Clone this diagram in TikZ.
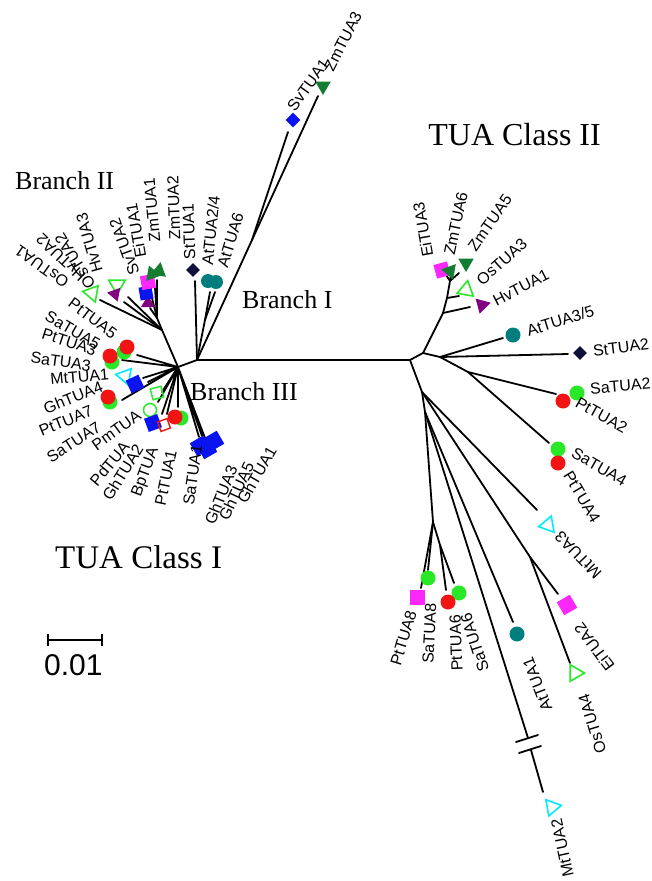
\documentclass[tikz,border=0pt]{standalone}
\usepackage{fontspec}
\setmainfont{Liberation Serif}
\setsansfont{Liberation Sans}
\usetikzlibrary{shapes.geometric}

\definecolor{tuared}{RGB}{242,20,20}
\definecolor{tualime}{RGB}{40,232,40}
\definecolor{tuateal}{RGB}{0,126,126}
\definecolor{tuanavy}{RGB}{15,15,60}
\definecolor{tuablue}{RGB}{10,20,240}
\definecolor{tuamagenta}{RGB}{250,40,250}
\definecolor{tuadkgreen}{RGB}{20,125,50}
\definecolor{tuapurple}{RGB}{128,0,128}
\definecolor{tuacyan}{RGB}{0,235,255}

\tikzset{
  branch/.style={line width=1.8pt, line cap=round},
  leaflabel/.style={font=\sffamily\fontsize{16}{18}\selectfont, inner sep=1pt},
  cladelabel/.style={font=\fontsize{26}{28}\selectfont, inner sep=0pt},
  classlabel/.style={font=\fontsize{33}{35}\selectfont, inner sep=0pt},
  tuadot/.style={circle, inner sep=0pt, minimum size=15pt, fill=#1},
  tuabox/.style={rectangle, inner sep=0pt, minimum size=13pt, fill=#1},
  tuagem/.style={diamond, inner sep=0pt, minimum size=15pt, fill=#1},
  tuatri/.style={regular polygon, regular polygon sides=3, inner sep=0pt, minimum size=18pt, fill=#1},
  tuaopen/.style={regular polygon, regular polygon sides=3, inner sep=0pt, minimum size=19pt, draw=#1, line width=1.6pt},
}

\begin{document}
\begin{tikzpicture}[x=1pt, y=-1pt]
    \useasboundingbox (0,0) rectangle (651,881);

    % Inner nodes
    \coordinate (hub) at (178,367);
    \coordinate (nI) at (197,360);
    \coordinate (nIa) at (205,320);
    \coordinate (nIb) at (252,240);
    \coordinate (nII) at (162,330);
    \coordinate (nIIa) at (157,318);
    \coordinate (nR) at (410,360);
    \coordinate (nRa) at (423,353);
    \coordinate (nRb) at (443,313);
    \coordinate (nRc) at (447,298);
    \coordinate (nRd) at (450,281);
    \coordinate (nRe) at (440,357);
    \coordinate (nRf) at (468,372);
    \coordinate (nD1) at (422,392);
    \coordinate (nD2) at (425,412);
    \coordinate (nD3) at (433,522);
    \coordinate (nD4) at (440,545);
    \coordinate (nD5) at (530,557);

    % Branch ends
    \coordinate (eSt1) at (195,281);
    \coordinate (eAt24) at (210,292);
    \coordinate (eAt6) at (215,292);
    \coordinate (eSv1) at (288,132);
    \coordinate (eZm3) at (318,96);
    \coordinate (eOs1) at (100,300);
    \coordinate (eHv2) at (124,302);
    \coordinate (eOs2) at (128,297);
    \coordinate (eHv3) at (150,308);
    \coordinate (eSv2) at (152,298);
    \coordinate (eEi1) at (155,288);
    \coordinate (eZm12) at (157,280);
    \coordinate (eP5) at (137,355);
    \coordinate (eP3) at (122,360);
    \coordinate (eMt1) at (143,378);
    \coordinate (eGh4) at (148,382);
    \coordinate (eP7) at (122,400);
    \coordinate (eBp) at (162,392);
    \coordinate (ePm) at (158,402);
    \coordinate (eGh2) at (162,414);
    \coordinate (ePd) at (167,414);
    \coordinate (eP1) at (178,407);
    \coordinate (eGha) at (199,437);
    \coordinate (eGhb) at (202,436);
    \coordinate (eGhc) at (205,438);
    \coordinate (eHv1) at (470,307);
    \coordinate (eOs3) at (459,296);
    \coordinate (eZm5) at (459,273);
    \coordinate (eEi3) at (446,275);
    \coordinate (eZm6) at (451,275);
    \coordinate (eAt35) at (503,338);
    \coordinate (eSt2) at (568,354);
    \coordinate (eSa2) at (556,394);
    \coordinate (eSa4) at (549,443);
    \coordinate (eMt3) at (537,510);
    \coordinate (eEi2) at (558,594);
    \coordinate (eOs4) at (570,663);
    \coordinate (eAt1) at (513,622);
    \coordinate (brkA) at (528,738);
    \coordinate (brkB) at (531,750);
    \coordinate (eMt2) at (543,792);
    \coordinate (eSa8) at (428,570);
    \coordinate (ePt8) at (421,588);
    \coordinate (ePt6) at (446,590);
    \coordinate (eSa6) at (454,583);

    % Backbone
    \draw[branch] (hub) -- (nI) -- (nR);

    % Branch I
    \draw[branch] (nI) -- (eSt1);
    \draw[branch] (nI) -- (nIa) -- (eAt24);
    \draw[branch] (nIa) -- (eAt6);
    \draw[branch] (nI) -- (nIb) -- (eZm3);
    \draw[branch] (nIb) -- (eSv1);

    % Branch II
    \draw[branch] (hub) -- (nII) -- (eOs1);
    \draw[branch] (nII) -- (eHv2);
    \draw[branch] (nII) -- (eOs2);
    \draw[branch] (nII) -- (nIIa) -- (eHv3);
    \draw[branch] (nIIa) -- (eSv2);
    \draw[branch] (nIIa) -- (eEi1);
    \draw[branch] (nIIa) -- (eZm12);

    % Branch III and the rest of class I
    \draw[branch] (hub) -- (eP5) (hub) -- (eP3) (hub) -- (eMt1) (hub) -- (eGh4);
    \draw[branch] (hub) -- (eP7) (hub) -- (eBp) (hub) -- (ePm) (hub) -- (eGh2);
    \draw[branch] (hub) -- (ePd) (hub) -- (eP1);
    \draw[branch] (hub) -- (eGha) (hub) -- (eGhb) (hub) -- (eGhc);

    % Class II, upper part
    \draw[branch] (nR) -- (nRa) -- (nRb) -- (eHv1);
    \draw[branch] (nRb) -- (nRc) -- (eOs3);
    \draw[branch] (nRc) -- (nRd) -- (eZm5);
    \draw[branch] (nRd) -- (eEi3);
    \draw[branch] (nRd) -- (eZm6);
    \draw[branch] (nRa) -- (nRe) -- (eAt35);
    \draw[branch] (nRe) -- (eSt2);
    \draw[branch] (nRe) -- (nRf) -- (eSa2);
    \draw[branch] (nRf) -- (eSa4);

    % Class II, lower part
    \draw[branch] (nR) -- (nD1) -- (eMt3);
    \draw[branch] (nD1) -- (nD5) -- (eEi2);
    \draw[branch] (nD5) -- (eOs4);
    \draw[branch] (nD1) -- (nD2) -- (eAt1);
    \draw[branch] (nD2) -- (brkA);
    \draw[branch] (brkB) -- (eMt2);
    \draw[branch] (nD2) -- (nD3) -- (eSa8);
    \draw[branch] (nD3) -- (ePt8);
    \draw[branch] (nD3) -- (nD4) -- (ePt6);
    \draw[branch] (nD4) -- (eSa6);
    % broken branch marks
    \draw[branch] (516,742) -- (538,735);
    \draw[branch] (519,753) -- (541,746);

    % Symbols, Branch I
    \node[tuagem=tuanavy, minimum size=14pt] (sSt1) at (193,270) {};
    \node[tuadot=tuateal, minimum size=14pt] (sAt24) at (208,281) {};
    \node[tuadot=tuateal, minimum size=14pt] (sAt6) at (216,282) {};
    \node[tuagem=tuablue, minimum size=15pt] (sSv1) at (293,120) {};
    \node[tuatri=tuadkgreen, rotate=180] (sZm3) at (323,86) {};

    % Symbols, Branch II
    \node[tuaopen=tualime, rotate=200] (sOs1) at (92,293) {};
    \node[tuaopen=tualime, rotate=180] (sOs2) at (117,285) {};
    \node[tuatri=tuapurple, rotate=200, minimum size=16pt] (sHv2) at (115,294) {};
    \node[tuatri=tuapurple, minimum size=16pt] (sHv3) at (148,303) {};
    \node[tuabox=tuablue, rotate=10] (sSv2) at (146,293) {};
    \node[tuabox=tuamagenta, rotate=10, minimum size=14pt] (sEi1) at (148,282) {};
    \node[tuatri=tuadkgreen, rotate=20] (sZm1) at (152,274) {};
    \node[tuatri=tuadkgreen, rotate=-10] (sZm2) at (159,271) {};

    % Symbols, left cluster
    \node[tuadot=tualime] (sSa5) at (124,352) {};
    \node[tuadot=tuared] (sPt5) at (127,347) {};
    \node[tuadot=tualime] (sSa3) at (112,362) {};
    \node[tuadot=tuared] (sPt3) at (110,356) {};
    \node[tuaopen=tuacyan, rotate=200] (sMt1) at (125,376) {};
    \node[tuabox=tuablue, rotate=25, minimum size=14pt] (sGh4) at (135,384) {};
    \node[tuadot=tualime] (sSa7) at (110,402) {};
    \node[tuadot=tuared] (sPt7) at (108,397) {};
    \node[rectangle, draw=tualime, line width=1.5pt, minimum size=11pt, inner sep=0pt, rotate=15] (sBp) at (157,393) {};
    \node[circle, draw=tualime, line width=1.5pt, minimum size=13pt, inner sep=0pt] (sPm) at (150,410) {};
    \node[tuabox=tuablue, rotate=20, minimum size=14pt] (sGh2) at (153,423) {};
    \node[rectangle, draw=tuared, line width=1.4pt, minimum size=10pt, inner sep=0pt, rotate=20] (sPd) at (164,425) {};
    \node[tuadot=tualime] (sSa1) at (181,418) {};
    \node[tuadot=tuared] (sPt1) at (175,417) {};
    \node[tuabox=tuablue, rotate=30, minimum size=15pt] (sGh3) at (200,446) {};
    \node[tuabox=tuablue, rotate=30, minimum size=15pt] (sGh5) at (207,449) {};
    \node[tuabox=tuablue, rotate=30, minimum size=15pt] (sGh1) at (214,441) {};

    % Symbols, class II
    \node[tuabox=tuamagenta, rotate=15, minimum size=14pt] (sEi3) at (442,270) {};
    \node[tuatri=tuadkgreen, rotate=200] (sZm6) at (450,271) {};
    \node[tuatri=tuadkgreen, rotate=180] (sZm5) at (466,263) {};
    \node[tuaopen=tualime, rotate=110] (sOs3) at (466,290) {};
    \node[tuatri=tuapurple, rotate=-75] (sHv1) at (482,305) {};
    \node[tuadot=tuateal] (sAt35) at (513,335) {};
    \node[tuagem=tuanavy, minimum size=14pt] (sSt2) at (580,353) {};
    \node[tuadot=tuared] (sPt2) at (563,401) {};
    \node[tuadot=tualime] (sSa2) at (577,393) {};
    \node[tuadot=tualime] (sSa4) at (558,449) {};
    \node[tuadot=tuared] (sPt4) at (558,463) {};
    \node[tuaopen=tuacyan, rotate=100] (sMt3) at (548,525) {};
    \node[tuabox=tuamagenta, rotate=30, minimum size=15pt] (sEi2) at (567,605) {};
    \node[tuaopen=tualime, rotate=150] (sOs4) at (575,673) {};
    \node[tuadot=tuateal] (sAt1) at (517,634) {};
    \node[tuaopen=tuacyan, rotate=160] (sMt2) at (552,807) {};
    \node[tuabox=tuamagenta, minimum size=15pt] (sPt8) at (417,597) {};
    \node[tuadot=tualime] (sSa8) at (428,578) {};
    \node[tuadot=tualime] (sSa6) at (459,593) {};
    \node[tuadot=tuared] (sPt6) at (448,602) {};

    % Labels, Branch I
    \node[leaflabel, anchor=west, rotate=92] (lSt1) at (190,261) {StTUA1};
    \node[leaflabel, anchor=west, rotate=84] (lAt24) at (207,266) {AtTUA2/4};
    \node[leaflabel, anchor=west, rotate=73] (lAt6) at (222,268) {AtTUA6};
    \node[leaflabel, anchor=west, rotate=54] (lSv1) at (290,110) {SvTUA1};
    \node[leaflabel, anchor=west, rotate=63] (lZm3) at (328,71) {ZmTUA3};

    % Labels, Branch II
    \node[leaflabel, anchor=west, rotate=145] (lOs1) at (68,285) {OsTUA1};
    \node[leaflabel, anchor=west, rotate=137] (lHv2) at (84,279) {HvTUA2};
    \node[leaflabel, anchor=west, rotate=122] (lOs2) at (92,288) {OsTUA2};
    \node[leaflabel, anchor=west, rotate=106] (lHv3) at (98,273) {HvTUA3};
    \node[leaflabel, anchor=west, rotate=110] (lSv2) at (135,276) {SvTUA2};
    \node[leaflabel, anchor=west, rotate=100] (lEi1) at (141,259) {EiTUA1};
    \node[leaflabel, anchor=west, rotate=95] (lZm1) at (155,243) {ZmTUA1};
    \node[leaflabel, anchor=west, rotate=92] (lZm2) at (175,241) {ZmTUA2};

    % Labels, left cluster
    \node[leaflabel, anchor=east, rotate=-37] (lPt5) at (116,336) {PtTUA5};
    \node[leaflabel, anchor=east, rotate=-30] (lSa5) at (100,346) {SaTUA5};
    \node[leaflabel, anchor=east, rotate=-18] (lPt3) at (97,351) {PtTUA3};
    \node[leaflabel, anchor=east, rotate=-8] (lSa3) at (92,366) {SaTUA3};
    \node[leaflabel, anchor=east, rotate=5] (lMt1) at (110,374) {MtTUA1};
    \node[leaflabel, anchor=east, rotate=22] (lGh4) at (103,385) {GhTUA4};
    \node[leaflabel, anchor=east, rotate=22] (lPt7) at (93,410) {PtTUA7};
    \node[leaflabel, anchor=east, rotate=33] (lSa7) at (100,425) {SaTUA7};
    \node[leaflabel, anchor=east, rotate=36] (lPm) at (140,413) {PmTUA};
    \node[leaflabel, anchor=east, rotate=50] (lPd) at (127,443) {PdTUA};
    \node[leaflabel, anchor=east, rotate=58] (lGh2) at (140,445) {GhTUA2};
    \node[leaflabel, anchor=east, rotate=70] (lBp) at (155,447) {BpTUA};
    \node[leaflabel, anchor=east, rotate=78] (lPt1) at (172,449) {PtTUA1};
    \node[leaflabel, anchor=east, rotate=82] (lSa1) at (197,444) {SaTUA1};
    \node[leaflabel, anchor=east, rotate=68] (lGh3) at (233,465) {GhTUA3};
    \node[leaflabel, anchor=east, rotate=65] (lGh5) at (250,462) {GhTUA5};
    \node[leaflabel, anchor=east, rotate=60] (lGh1) at (273,447) {GhTUA1};

    % Labels, class II
    \node[leaflabel, anchor=west, rotate=100] (lEi3) at (428,258) {EiTUA3};
    \node[leaflabel, anchor=west, rotate=78] (lZm6) at (449,256) {ZmTUA6};
    \node[leaflabel, anchor=west, rotate=55] (lZm5) at (471,250) {ZmTUA5};
    \node[leaflabel, anchor=west, rotate=42] (lOs3) at (478,283) {OsTUA3};
    \node[leaflabel, anchor=west, rotate=27] (lHv1) at (493,302) {HvTUA1};
    \node[leaflabel, anchor=west, rotate=17] (lAt35) at (526,331) {AtTUA3/5};
    \node[leaflabel, anchor=west, rotate=7] (lSt2) at (592,351) {StTUA2};
    \node[leaflabel, anchor=west, rotate=5] (lSa2) at (589,389) {SaTUA2};
    \node[leaflabel, anchor=west, rotate=-29] (lPt2) at (576,401) {PtTUA2};
    \node[leaflabel, anchor=west, rotate=-30] (lSa4) at (572,451) {SaTUA4};
    \node[leaflabel, anchor=west, rotate=-59] (lPt4) at (567,472) {PtTUA4};
    \node[leaflabel, anchor=east, rotate=134] (lMt3) at (557,533) {MtTUA3};
    \node[leaflabel, anchor=east, rotate=127] (lEi2) at (577,624) {EiTUA2};
    \node[leaflabel, anchor=east, rotate=107] (lOs4) at (583,693) {OsTUA4};
    \node[leaflabel, anchor=east, rotate=102] (lMt2) at (556,818) {MtTUA2};
    \node[leaflabel, anchor=east, rotate=111] (lAt1) at (527,657) {AtTUA1};
    \node[leaflabel, anchor=east, rotate=108] (lSa6) at (465,613) {SaTUA6};
    \node[leaflabel, anchor=east, rotate=92] (lPt6) at (455,614) {PtTUA6};
    \node[leaflabel, anchor=east, rotate=87] (lSa8) at (431,602) {SaTUA8};
    \node[leaflabel, anchor=east, rotate=73] (lPt8) at (412,610) {PtTUA8};

    % Clade and class names
    \node[cladelabel, anchor=base west] (cII) at (15,189) {Branch II};
    \node[cladelabel, anchor=base west] (cI) at (242,308) {Branch I};
    \node[cladelabel, anchor=base west] (cIII) at (190,400) {Branch III};
    \node[classlabel, anchor=base west] (kI) at (55,568) {TUA Class I};
    \node[classlabel, anchor=base east, font=\fontsize{32}{34}\selectfont] (kII) at (601,145) {TUA Class II};

    % Scale bar
    \coordinate (sbl) at (48,640);
    \coordinate (sbr) at (102,640);
    \draw[branch, line cap=butt] (sbl) -- (sbr);
    \draw[branch, line cap=butt] ([yshift=6pt]sbl) -- ([yshift=-6pt]sbl);
    \draw[branch, line cap=butt] ([yshift=6pt]sbr) -- ([yshift=-6pt]sbr);
    \node[anchor=base west, inner sep=0pt, font=\sffamily\fontsize{30}{32}\selectfont] (sbtext) at (44,675) {0.01};
\end{tikzpicture}
\end{document}
